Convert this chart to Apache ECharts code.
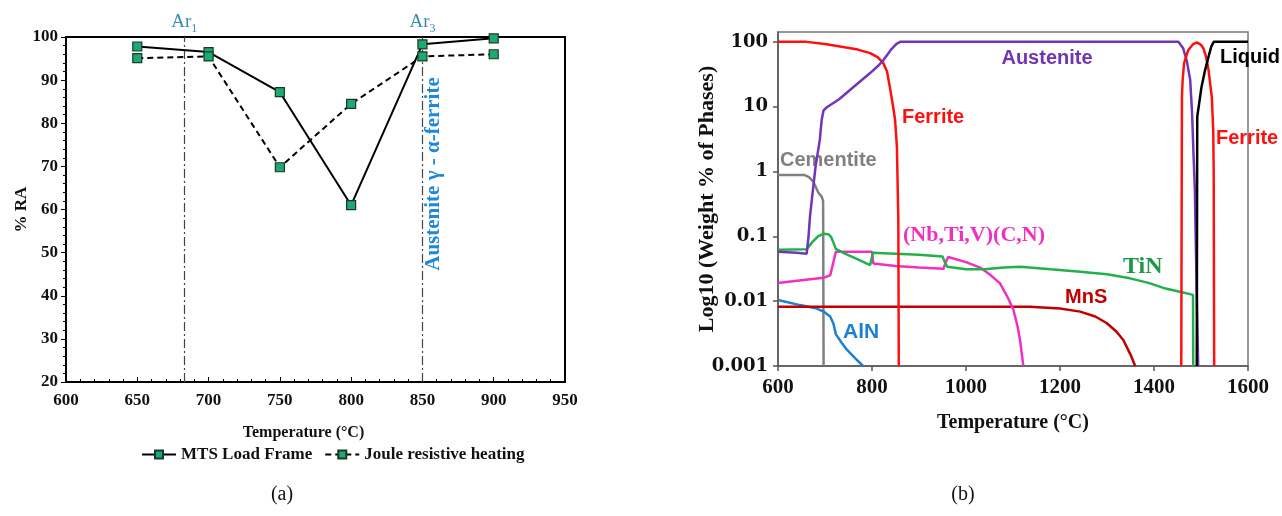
<!DOCTYPE html>
<html><head><meta charset="utf-8">
<script src="https://cdn.jsdelivr.net/npm/echarts@6/dist/echarts.min.js"></script>
<style>html,body{margin:0;padding:0;background:#fff}#c{width:1282px;height:516px}</style>
</head><body><div id="c"></div>
<script>
// ---- (a) reduction of area ----
const tempsA = [650, 700, 750, 800, 850, 900];
const mtsRA = [97.8, 96.5, 87.2, 61.0, 98.3, 99.7];
const jouleRA = [95.1, 95.5, 69.8, 84.5, 95.5, 96.0];
const arTemps = [683, 850];
const arNames = ['1', '3'];

// ---- (b) phase fractions [T, weight %] ----
const ferriteLow = [[600,100],[661,100],[700,93],[732,85],[770,76],[796,67],[812,58],[824,47],[832,35],[838,20],[845,10],[849,6.3],[853,2.4],[856,0.18],[857,0.001]];
const austenite = [[600,0.058],[640,0.056],[661,0.054],[665,0.1],[668,0.2],[672,0.37],[680,1.2],[689,3.1],[693,6.3],[697,8.8],[704,9.8],[730,13],[760,20],[796,33],[812,42],[824,52],[840,75],[852,93],[860,100],[1452,100],[1462,80],[1470,50],[1477,26],[1481,8],[1484,1.9],[1487,0.5],[1490,0.03],[1494,0.001]];
const ferriteHigh = [[1458,0.001],[1459,1],[1459.5,15],[1461,26],[1464,47],[1473,75],[1483,92],[1492,98],[1500,90],[1505,80],[1511,58],[1516,37],[1523,14],[1526,4.4],[1527,1],[1528,0.001]];
const liquid = [[1491,0.001],[1491.5,0.1],[1492,7],[1501,20],[1508,35],[1516,59],[1522,85],[1527,100],[1600,100]];
const cementite = [[600,0.88],[657,0.88],[666,0.82],[675,0.70],[686,0.47],[693,0.41],[696,0.35],[697,0.001]];
const tin = [[600,0.062],[661,0.063],[672,0.08],[685,0.1],[697,0.11],[707,0.108],[713,0.098],[718,0.08],[723,0.064],[740,0.055],[770,0.044],[796,0.036],[799,0.037],[802,0.056],[850,0.054],[900,0.052],[950,0.049],[955,0.040],[960,0.034],[1000,0.031],[1040,0.031],[1080,0.033],[1115,0.034],[1180,0.031],[1243,0.0285],[1300,0.026],[1349,0.0225],[1390,0.019],[1420,0.016],[1455,0.014],[1483,0.0125],[1483.5,0.001]];
const nbtiv = [[600,0.019],[650,0.021],[697,0.023],[711,0.025],[716,0.035],[723,0.058],[800,0.058],[803,0.038],[850,0.035],[900,0.033],[952,0.0316],[957,0.04],[962,0.048],[1000,0.040],[1030,0.033],[1050,0.026],[1072,0.019],[1090,0.011],[1101,0.0073],[1110,0.004],[1115,0.0025],[1120,0.0013],[1122,0.001]];
const mns = [[600,0.0082],[1136,0.0082],[1200,0.0077],[1243,0.0069],[1275,0.0058],[1299,0.0046],[1320,0.0034],[1335,0.0025],[1350,0.0015],[1360,0.001]];
const aln = [[600,0.0104],[647,0.0087],[680,0.0078],[697,0.0069],[711,0.0058],[718,0.0045],[723,0.0031],[735,0.0023],[746,0.0018],[765,0.0013],[781,0.001]];
const logLabels = ['0.001', '0.01', '0.1', '1', '10', '100'];

const SERIF = "'Liberation Serif','Times New Roman',serif";
const WSERIF = "'DejaVu Serif','Liberation Serif',serif";
const SANS = "'Liberation Sans',Arial,sans-serif";

const chart = echarts.init(document.getElementById('c'), null, {renderer: 'canvas'});

function phase(name, data, color, width) {
  return {
    name: name, type: 'line', xAxisIndex: 1, yAxisIndex: 1,
    data: data, showSymbol: false, symbol: 'none', smooth: false,
    lineStyle: {color: color, width: width || 2.5}, itemStyle: {color: color},
    silent: true, animation: false, clip: true
  };
}

const markerStyle = {color: '#1fa872', borderColor: '#163a2a', borderWidth: 1.2};

const option = {
  backgroundColor: '#fff',
  animation: false,
  grid: [
    {left: 66, top: 37, right: 717, bottom: 134, show: true, borderColor: '#000', borderWidth: 2, backgroundColor: 'transparent'},
    {left: 778, top: 32, right: 34, bottom: 150, show: true, borderColor: '#777', borderWidth: 1.5, backgroundColor: 'transparent'}
  ],
  legend: {
    data: ['MTS Load Frame', 'Joule resistive heating'],
    left: 136, top: 441, itemWidth: 34, itemHeight: 10, itemGap: 12,
    textStyle: {fontFamily: SERIF, fontWeight: 'bold', fontSize: 17, color: '#111'}
  },
  xAxis: [
    {
      gridIndex: 0, type: 'value', min: 600, max: 950, interval: 50,
      name: 'Temperature (°C)', nameLocation: 'middle', nameGap: 43, nameMoveOverlap: false,
      nameTextStyle: {fontFamily: SERIF, fontWeight: 'bold', fontSize: 16, color: '#111', padding: [0, 24, 0, 0]},
      axisLine: {lineStyle: {color: '#000', width: 2}},
      axisTick: {inside: true, length: 5, lineStyle: {color: '#000', width: 1}},
      minorTick: {show: true, splitNumber: 5, length: 3, lineStyle: {color: '#000', width: 1}},
      axisLabel: {fontFamily: SERIF, fontWeight: 'bold', fontSize: 17, color: '#111', margin: 10},
      splitLine: {show: false}
    },
    {
      gridIndex: 1, type: 'value', min: 600, max: 1600, interval: 200,
      name: 'Temperature (°C)', nameLocation: 'middle', nameGap: 47, nameMoveOverlap: false,
      nameTextStyle: {fontFamily: SERIF, fontWeight: 'bold', fontSize: 20, color: '#111'},
      axisLine: {lineStyle: {color: '#555', width: 1.5}},
      axisTick: {inside: false, length: 5, lineStyle: {color: '#555', width: 1.5}},
      axisLabel: {fontFamily: SERIF, fontWeight: 'bold', fontSize: 21, color: '#111', margin: 11,
        formatter: function (v) { return String(v); }},
      splitLine: {show: false}
    }
  ],
  yAxis: [
    {
      gridIndex: 0, type: 'value', min: 20, max: 100, interval: 10,
      name: '% RA', nameLocation: 'middle', nameGap: 36, nameRotate: 90, nameMoveOverlap: false,
      nameTextStyle: {fontFamily: SERIF, fontWeight: 'bold', fontSize: 17, color: '#111'},
      axisLine: {show: true, lineStyle: {color: '#000', width: 2}},
      axisTick: {inside: false, length: 5, lineStyle: {color: '#000', width: 1}},
      minorTick: {show: true, splitNumber: 5, length: 3, lineStyle: {color: '#000', width: 1}},
      axisLabel: {fontFamily: SERIF, fontWeight: 'bold', fontSize: 17, color: '#111', margin: 8},
      splitLine: {show: false}
    },
    {
      gridIndex: 1, type: 'log', logBase: 10, min: 0.001, max: 142,
      name: 'Log10 (Weight % of Phases)', nameLocation: 'middle', nameGap: 60, nameRotate: 90, nameMoveOverlap: false,
      nameTextStyle: {fontFamily: SERIF, fontWeight: 'bold', fontSize: 22, color: '#111'},
      axisLine: {show: true, lineStyle: {color: '#555', width: 1.5}},
      axisTick: {inside: false, length: 5, lineStyle: {color: '#555', width: 1.5}},
      axisLabel: {
        fontFamily: WSERIF, fontWeight: 'bold', fontSize: 18, color: '#111', margin: 10,
        showMaxLabel: false,
        formatter: function (v) {
          const e = Math.log10(v);
          const r = Math.round(e);
          if (Math.abs(e - r) > 1e-6) return '';
          return logLabels[r + 3] || '';
        }
      },
      splitLine: {show: false}
    }
  ],
  series: [
    {
      name: 'MTS Load Frame', type: 'line', xAxisIndex: 0, yAxisIndex: 0,
      data: tempsA.map((t, i) => [t, mtsRA[i]]),
      symbol: 'rect', symbolSize: 9, itemStyle: markerStyle,
      lineStyle: {color: '#000', width: 2, type: 'solid'}, z: 5,
      markLine: {
        silent: true, symbol: 'none',
        lineStyle: {color: '#444', width: 1.2, type: [9, 3, 2, 3]},
        label: {
          show: true, position: 'end', distance: 5,
          formatter: function (p) { return '{m|Ar}{s|' + arNames[p.dataIndex] + '}'; },
          rich: {
            m: {fontFamily: SERIF, fontSize: 19, color: '#3a8bb0', lineHeight: 20, verticalAlign: 'bottom'},
            s: {fontFamily: SERIF, fontSize: 12, color: '#3a8bb0', lineHeight: 20, verticalAlign: 'bottom', padding: [0, 0, -3, 0]}
          }
        },
        data: arTemps.map(t => ({xAxis: t}))
      }
    },
    {
      name: 'Joule resistive heating', type: 'line', xAxisIndex: 0, yAxisIndex: 0,
      data: tempsA.map((t, i) => [t, jouleRA[i]]),
      symbol: 'rect', symbolSize: 9, itemStyle: markerStyle,
      lineStyle: {color: '#000', width: 2, type: [6, 4]}, z: 5
    },
    phase('Cementite', cementite, '#808080'),
    phase('AlN', aln, '#1f7fd0'),
    phase('MnS', mns, '#c00000'),
    phase('NbTiV', nbtiv, '#f030c0'),
    phase('TiN', tin, '#22b04c'),
    phase('FerriteLow', ferriteLow, '#ff1010'),
    phase('Austenite', austenite, '#7035b8'),
    phase('FerriteHigh', ferriteHigh, '#ff1010'),
    phase('Liquid', liquid, '#000000')
  ],
  graphic: [
    {type: 'text', x: 434, y: 174, rotation: Math.PI / 2,
      style: {text: 'Austenite γ - α-ferrite', font: "bold 21px " + SERIF, fill: '#2088d8', align: 'center', verticalAlign: 'middle'}},
    {type: 'text', x: 282, y: 495, style: {text: '(a)', font: "20px " + SERIF, fill: '#111', align: 'center', verticalAlign: 'middle'}},
    {type: 'text', x: 963, y: 495, style: {text: '(b)', font: "20px " + SERIF, fill: '#111', align: 'center', verticalAlign: 'middle'}},
    {type: 'text', x: 1047, y: 58, style: {text: 'Austenite', font: "bold 20px " + SANS, fill: '#7035b0', align: 'center', verticalAlign: 'middle'}},
    {type: 'text', x: 1220, y: 57, style: {text: 'Liquid', font: "bold 20px " + SANS, fill: '#000', align: 'left', verticalAlign: 'middle'}},
    {type: 'text', x: 1216, y: 138, style: {text: 'Ferrite', font: "bold 20px " + SANS, fill: '#ff1010', align: 'left', verticalAlign: 'middle'}},
    {type: 'text', x: 902, y: 117, style: {text: 'Ferrite', font: "bold 20px " + SANS, fill: '#ff1010', align: 'left', verticalAlign: 'middle'}},
    {type: 'text', x: 780, y: 160, style: {text: 'Cementite', font: "bold 20px " + SANS, fill: '#808080', align: 'left', verticalAlign: 'middle'}},
    {type: 'text', x: 903, y: 235, style: {text: '(Nb,Ti,V)(C,N)', font: "bold 22px " + SERIF, fill: '#f030c0', align: 'left', verticalAlign: 'middle'}},
    {type: 'text', x: 1123, y: 267, style: {text: 'TiN', font: "bold 24px " + SERIF, fill: '#1a9a48', align: 'left', verticalAlign: 'middle'}},
    {type: 'text', x: 1065, y: 297, style: {text: 'MnS', font: "bold 20px " + SANS, fill: '#c00000', align: 'left', verticalAlign: 'middle'}},
    {type: 'text', x: 843, y: 332, style: {text: 'AlN', font: "bold 21px " + SANS, fill: '#1f7fd0', align: 'left', verticalAlign: 'middle'}}
  ]
};
chart.setOption(option);
</script>
</body></html>
